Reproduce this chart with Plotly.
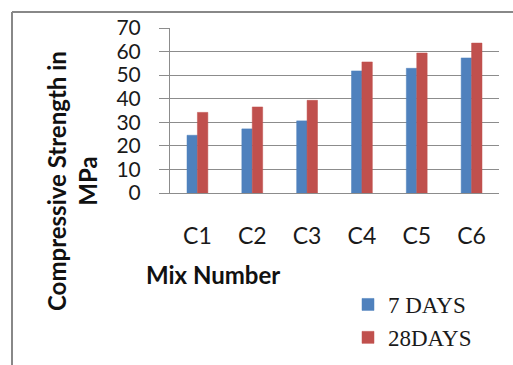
import plotly.graph_objects as go

# Compressive strength of concrete mixes at two curing ages
mixes = ["C1", "C2", "C3", "C4", "C5", "C6"]
strength_7_days = [24.5, 27.2, 30.6, 51.8, 52.9, 57.3]
strength_28_days = [34.2, 36.5, 39.3, 55.6, 59.4, 63.6]
y_ticks = [0, 10, 20, 30, 40, 50, 60, 70]

W, H = 513, 365
L, R, T, B = 170, 14, 28, 172
pw, ph = W - L - R, H - T - B


def px_x(px):
    return (px - L) / pw


def px_y(py):
    return (H - B - py) / ph


BLUE = "#4F81BD"
RED = "#C0504D"
GRID = "#8C8C8C"
SANS = "Lato, 'Open Sans', sans-serif"

fig = go.Figure()
fig.add_trace(go.Bar(x=mixes, y=strength_7_days, name="7 DAYS",
                     marker=dict(color=BLUE, line=dict(color=BLUE, width=0.5))))
fig.add_trace(go.Bar(x=mixes, y=strength_28_days, name="28DAYS",
                     marker=dict(color=RED, line=dict(color=RED, width=0.5))))

fig.update_layout(
    width=W, height=H,
    margin=dict(l=L, r=R, t=T, b=B, pad=0, autoexpand=False),
    paper_bgcolor="white", plot_bgcolor="white",
    barmode="group", bargap=0.62, bargroupgap=0,
    showlegend=True,
    legend=dict(
        x=px_x(348), y=px_y(283), xanchor="left", yanchor="top",
        font=dict(family="'Liberation Serif', 'Times New Roman', serif", size=23, color="#1a1a1a"),
        bgcolor="rgba(0,0,0,0)", itemclick=False,
    ),
    font=dict(family=SANS, color="#1a1a1a"),
)

fig.update_yaxes(
    range=[0, 70], tickvals=y_ticks, showgrid=True, gridcolor=GRID, gridwidth=1,
    showline=True, linecolor=GRID, linewidth=1,
    ticks="outside", ticklen=10, tickcolor=GRID, tickwidth=1,
    ticklabelstandoff=14, tickfont=dict(family=SANS, size=21, color="#1a1a1a"),
    zeroline=False, fixedrange=True, automargin=False,
)
fig.update_xaxes(
    showline=True, linecolor=GRID, linewidth=1, ticks="",
    ticklabelstandoff=22, tickfont=dict(family=SANS, size=23, color="#1a1a1a"),
    fixedrange=True, automargin=False,
)

# Axis titles
fig.add_annotation(
    text="<b>Mix Number</b>", xref="paper", yref="paper",
    x=px_x(213), y=px_y(274), xanchor="center", yanchor="middle",
    showarrow=False, font=dict(family=SANS, size=24, color="#111"),
)
fig.add_annotation(
    text="<b>Compressive Strength in<br>MPa</b>", xref="paper", yref="paper",
    x=px_x(72), y=px_y(181), xanchor="center", yanchor="middle",
    textangle=-90, showarrow=False,
    font=dict(family=SANS, size=24, color="#111"),
)

# Chart frame (top and left edges)
fig.add_shape(type="line", xref="paper", yref="paper",
              x0=px_x(12), x1=px_x(520), y0=px_y(12), y1=px_y(12),
              line=dict(color="#888888", width=2))
fig.add_shape(type="line", xref="paper", yref="paper",
              x0=px_x(12), x1=px_x(12), y0=px_y(12), y1=px_y(370),
              line=dict(color="#888888", width=2))

fig.write_html("out.html")
